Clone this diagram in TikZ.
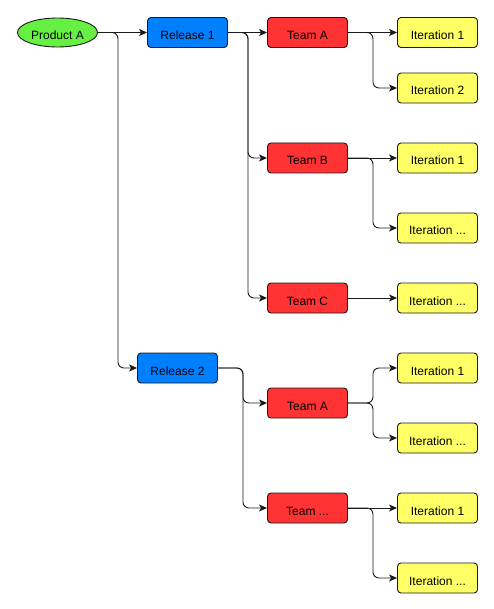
\documentclass[tikz,border=0pt]{standalone}
\usepackage{fontspec}
\setmainfont{Liberation Sans}
\usetikzlibrary{shapes.geometric,arrows.meta}
\definecolor{cgreen}{HTML}{66F043}
\definecolor{cblue}{HTML}{007FFF}
\definecolor{cred}{HTML}{FF3333}
\definecolor{cyellow}{HTML}{FFFF66}
\definecolor{cline}{HTML}{1A1A1A}
\begin{document}
\begin{tikzpicture}[x=1pt,y=-1pt,
  txt/.style={font=\fontsize{12}{14}\selectfont,text height=14pt,text depth=0pt},
  box/.style={txt,draw=cline,line width=0.9pt,rounded corners=3.5pt,minimum width=80pt,minimum height=30pt,inner sep=0pt},
  prod/.style={txt,ellipse,draw=cline,line width=0.9pt,fill=cgreen,minimum width=80pt,minimum height=29pt,inner sep=0pt},
  rel/.style={box,fill=cblue},
  team/.style={box,fill=cred},
  iter/.style={box,fill=cyellow},
  conn/.style={draw=cline,line width=0.9pt,rounded corners=6pt,-{Stealth[length=8pt,width=7pt,inset=2pt]}}]
\useasboundingbox (0,0) rectangle (494,609);
\node[prod] (pa) at (57.5,32.5) {Product A};
\node[rel] (r1) at (187.5,32.5) {Release 1};
\node[rel] (r2) at (177.5,368) {Release 2};
\node[team] (t1a) at (307.5,32.5) {Team A};
\node[team] (t1b) at (307.5,158) {Team B};
\node[team] (t1c) at (307.5,298) {Team C};
\node[team] (t2a) at (307.5,403) {Team A};
\node[team] (t2x) at (307.5,508) {Team ...};
\node[iter] (i1) at (437.5,32.5) {Iteration 1};
\node[iter] (i2) at (437.5,88) {Iteration 2};
\node[iter] (i3) at (437.5,158) {Iteration 1};
\node[iter] (i4) at (437.5,228) {Iteration ...};
\node[iter] (i5) at (437.5,298) {Iteration ...};
\node[iter] (i6) at (437.5,368) {Iteration 1};
\node[iter] (i7) at (437.5,438) {Iteration ...};
\node[iter] (i8) at (437.5,508) {Iteration 1};
\node[iter] (i9) at (437.5,578) {Iteration ...};
% edges
\draw[conn] (pa.east) -- (r1.west);
\draw[conn] (pa.east) -- ++(20,0) |- (r2.west);
\draw[conn] (r1.east) -- (t1a.west);
\draw[conn] (r1.east) -- ++(20,0) |- (t1b.west);
\draw[conn] (r1.east) -- ++(20,0) |- (t1c.west);
\draw[conn] (t1a.east) -- (i1.west);
\draw[conn] (t1a.east) -- ++(25,0) |- (i2.west);
\draw[conn] (t1b.east) -- (i3.west);
\draw[conn] (t1b.east) -- ++(25,0) |- (i4.west);
\draw[conn] (t1c.east) -- (i5.west);
\draw[conn] (r2.east) -- ++(25,0) |- (t2a.west);
\draw[conn] (r2.east) -- ++(25,0) |- (t2x.west);
\draw[conn] (t2a.east) -- ++(25,0) |- (i6.west);
\draw[conn] (t2a.east) -- ++(25,0) |- (i7.west);
\draw[conn] (t2x.east) -- (i8.west);
\draw[conn] (t2x.east) -- ++(25,0) |- (i9.west);
\end{tikzpicture}
\end{document}
